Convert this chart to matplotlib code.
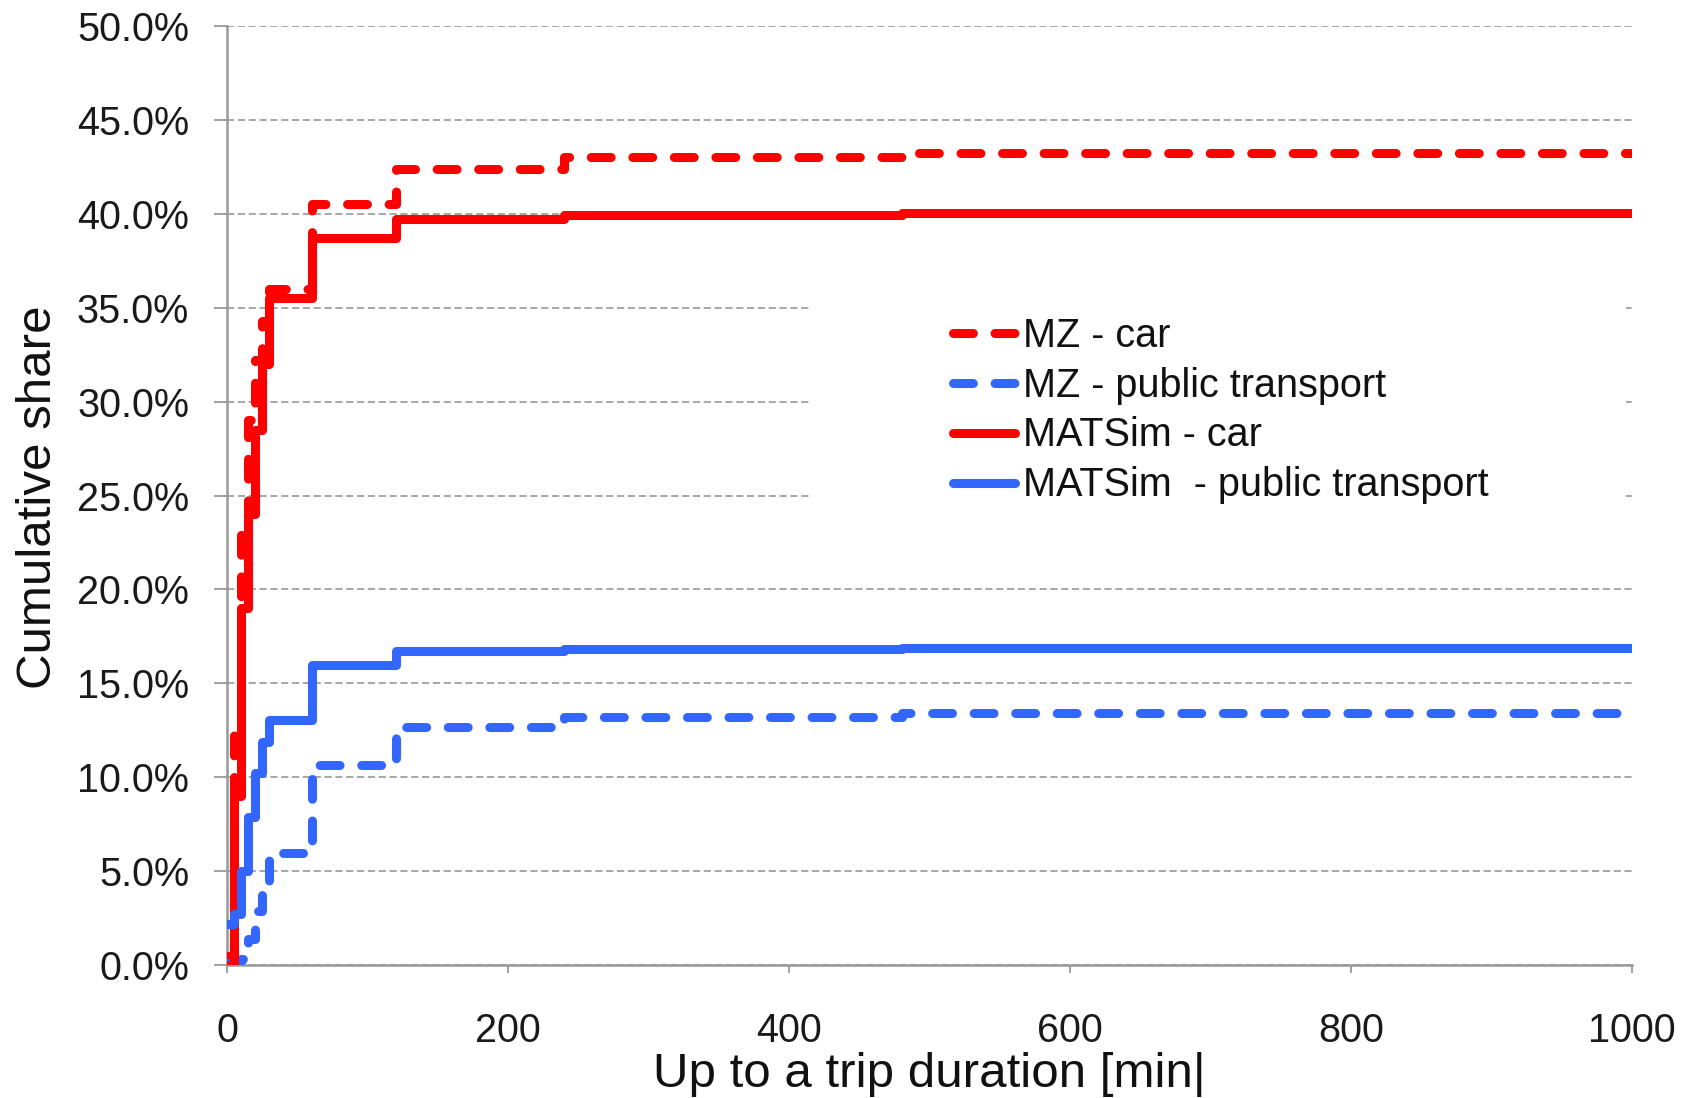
import matplotlib
matplotlib.use("Agg")
import matplotlib.pyplot as plt
from matplotlib.patches import Rectangle
from matplotlib.ticker import FuncFormatter, MultipleLocator

# ---- data (cumulative share in %, step function, value holds from x to next x) ----
durations = [0, 5, 10, 15, 20, 25, 30, 60, 120, 240, 480, 1000]
mz_car = [0.5, 12.5, 23.6, 29.0, 32.2, 34.3, 36.0, 40.5, 42.4, 43.0, 43.25, 43.25]
mz_pt = [0.1, 0.2, 0.3, 1.4, 2.9, 4.4, 5.95, 10.65, 12.65, 13.2, 13.4, 13.4]
matsim_car = [0.0, 9.0, 19.0, 24.0, 28.5, 32.0, 35.5, 38.7, 39.7, 39.95, 40.05, 40.05]
matsim_pt = [2.2, 2.7, 5.0, 7.9, 10.2, 11.9, 13.05, 16.0, 16.7, 16.85, 16.9, 16.9]

labels = ["MZ - car", "MZ - public transport", "MATSim - car", "MATSim  - public transport"]
x_ticks = [0, 200, 400, 600, 800, 1000]

RED = "#FF0000"
BLUE = "#3366FF"

plt.rcParams["font.family"] = ["Liberation Sans", "DejaVu Sans"]

fig = plt.figure(figsize=(16.97, 10.98), dpi=100)
ax = fig.add_axes([0.1339, 0.1211, 0.9617 - 0.1339, 0.9763 - 0.1211])

ax.set_xlim(0, 1000)
ax.set_ylim(0, 50)

# grid
ax.yaxis.set_major_locator(MultipleLocator(5))
ax.set_xticks(x_ticks)
ax.grid(axis="y", color="#a0a0a0", linestyle=(0, (4, 2)), linewidth=1.3, zorder=0)
ax.set_axisbelow(True)

# white box behind legend hiding gridlines
ax.add_patch(Rectangle((0.4148, 0.43), 0.581, 0.32, transform=ax.transAxes,
                       facecolor="white", edgecolor="none", zorder=1))

lw = 6.5
dash = (2.2, 2.4)
ax.plot(durations, mz_car, drawstyle="steps-post", color=RED, lw=lw,
        linestyle=(0, dash), dash_capstyle="round", label=labels[0], zorder=3)
ax.plot(durations, mz_pt, drawstyle="steps-post", color=BLUE, lw=lw,
        linestyle=(0, dash), dash_capstyle="round", label=labels[1], zorder=3)
ax.plot(durations, matsim_car, drawstyle="steps-post", color=RED, lw=lw,
        solid_capstyle="round", label=labels[2], zorder=3)
ax.plot(durations, matsim_pt, drawstyle="steps-post", color=BLUE, lw=lw,
        solid_capstyle="round", label=labels[3], zorder=3)

# spines
for s in ["top", "right"]:
    ax.spines[s].set_visible(False)
for s in ["left", "bottom"]:
    ax.spines[s].set_color("#999999")
    ax.spines[s].set_linewidth(1.8)

ax.yaxis.set_major_formatter(FuncFormatter(lambda v, p: f"{v:.1f}%"))
ax.tick_params(axis="y", length=9.4, width=1.3, color="#999999", pad=18,
               labelsize=28.5, labelcolor="#1a1a1a")
ax.tick_params(axis="x", length=6, width=1.3, color="#999999", pad=27.5,
               labelsize=28.5, labelcolor="#1a1a1a")

leg = ax.legend(loc="center left", bbox_to_anchor=(0.517, 0.5905), frameon=False,
                fontsize=28.5, handlelength=1.55, handletextpad=0.2,
                labelspacing=0.3, borderpad=0, borderaxespad=0)
for t in leg.get_texts():
    t.set_color("#111111")

fig.text(0.5475, 0.010, "Up to a trip duration [min|", ha="center", va="baseline",
         fontsize=35.5, color="#111111")
fig.text(0.0225, 0.5474, "Cumulative share", ha="center", va="center",
         rotation=90, fontsize=35.5, color="#111111")

fig.savefig("out.png", dpi=100)
